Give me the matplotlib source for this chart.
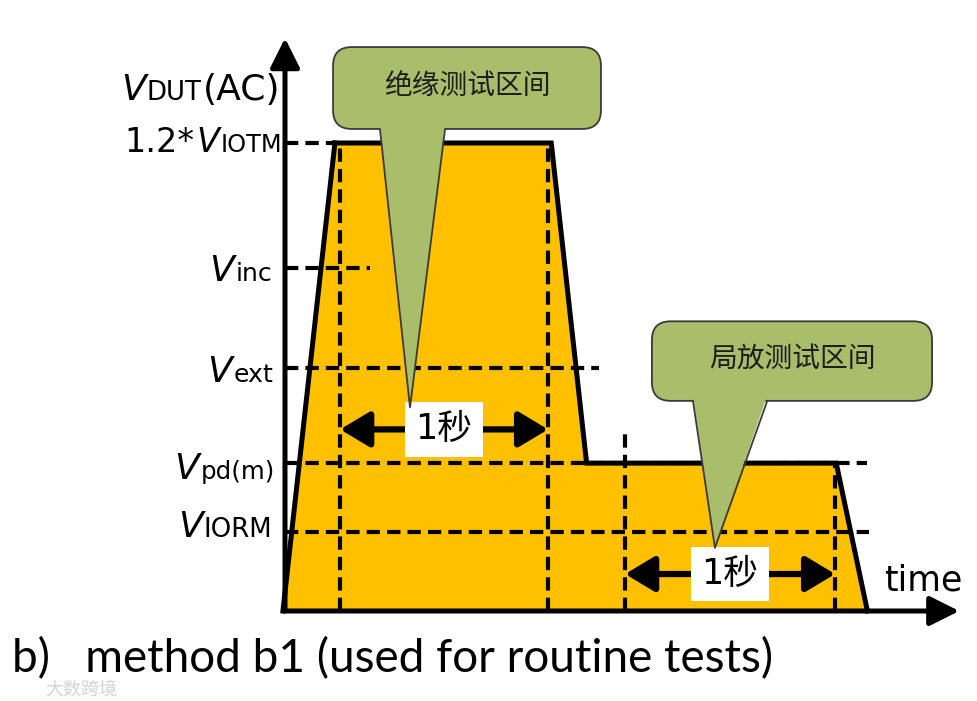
import matplotlib
matplotlib.use("Agg")
import matplotlib.pyplot as plt
from matplotlib.patches import Polygon, FancyBboxPatch, FancyArrowPatch
from matplotlib.offsetbox import TextArea, HPacker, AnnotationBbox

plt.rcParams['font.family'] = ['DejaVu Sans', 'Noto Sans CJK SC']

# --- waveform (time in seconds-ish units, voltage with 1.2*V_IOTM = 100) ---
wave_t = [-0.01, 0.24, 1.28, 1.45, 2.65, 2.80]
wave_v = [0, 100, 100, 31.6, 31.6, 0]

# voltage levels on the y axis
level_main = ["V", "1.2*V", "V", "V", "V", "V"]
level_sub = ["DUT(AC)", "IOTM", "inc", "ext", "pd(m)", "IORM"]
level_v = [100.0, 73.3, 52.0, 31.6, 16.8]
level_stop = [0.24, 0.41, 1.51, 2.80, 2.81]   # where each dashed guide ends

# vertical guides (start of/end of the 1 s windows)
mark_t = [0.265, 1.265, 1.635, 2.645]
mark_top = [100, 100, 39.0, 31.6]

# 1-second windows: (start, end, height)
win_start = [0.265, 1.635]
win_end = [1.265, 2.645]
win_v = [38.8, 7.9]
win_label = "1秒"

callout_text = ["绝缘测试区间", "局放测试区间"]

ORANGE = "#FFC000"
GREEN = "#A9BD6B"

fig = plt.figure(figsize=(9.78, 7.01), dpi=100)
ax = fig.add_axes([0, 0, 1, 1])
# 1 unit of t = 208 px, 1 unit of v = 4.68 px; origin at pixel (285, 611)
ax.set_xlim(-285 / 208, (978 - 285) / 208)
ax.set_ylim(-(701 - 611) / 4.68, 611 / 4.68)
ax.axis("off")

# orange area + outline
ax.add_patch(Polygon(list(zip(wave_t, wave_v)), closed=True, facecolor=ORANGE,
                     edgecolor="none", zorder=1))
ax.plot(wave_t[1:], wave_v[1:], color="black", lw=3.6, solid_joinstyle="miter", zorder=4)
ax.plot(wave_t[:2], wave_v[:2], color="black", lw=3.6, zorder=4)

dash = (0, (3.2, 1.7))
for v, stop in zip(level_v, level_stop):
    ax.plot([0, stop], [v, v], color="black", lw=3.0, linestyle=dash, zorder=3)
for t, top in zip(mark_t, mark_top):
    ax.plot([t, t], [0, top], color="black", lw=3.0, linestyle=dash, zorder=3)

# axes with arrows
for start, end in [((0, -0.5), (0, 123)), ((-0.02, 0), (3.255, 0))]:
    ax.add_patch(FancyArrowPatch(start, end, arrowstyle="-|>,head_length=0.9,head_width=0.45",
                                 mutation_scale=20, lw=3.6, color="black", zorder=6))

# y labels (pixel rows of the reference turned into v units)
label_y = [(611 - 90) / 4.68, (611 - 143) / 4.68, (611 - 271) / 4.68,
           (611 - 372) / 4.68, (611 - 469) / 4.68, (611 - 527) / 4.68]
label_x = [-0.02, -0.015, -0.06, -0.055, -0.048, -0.06]
main_size = [26, 24, 26, 26, 26, 26]
sub_ratio = [0.72, 0.72, 0.7, 0.7, 0.68, 0.72]
for m, s, x, y, fs, r in zip(level_main, level_sub, label_x, label_y, main_size, sub_ratio):
    parts = []
    if m.startswith("1.2*"):
        parts.append(TextArea("1.2*", textprops=dict(fontsize=fs)))
    parts.append(TextArea("V", textprops=dict(fontsize=fs, fontstyle="italic")))
    if s == "DUT(AC)":
        parts.append(TextArea("DUT", textprops=dict(fontsize=fs * r)))
        parts.append(TextArea("(AC)", textprops=dict(fontsize=fs)))
    else:
        parts.append(TextArea(s, textprops=dict(fontsize=fs * r)))
    box = HPacker(children=parts, align="baseline", pad=0, sep=1)
    ax.add_artist(AnnotationBbox(box, (x, y), box_alignment=(1, 0.5), frameon=False,
                                 pad=0, zorder=7))

# 1 s windows
for t0, t1, v in zip(win_start, win_end, win_v):
    ax.add_patch(FancyArrowPatch((t0, v), (t1, v), arrowstyle="<|-|>,head_length=1.0,head_width=0.6",
                                 mutation_scale=18, lw=4.5, color="black", zorder=8,
                                 shrinkA=0, shrinkB=0))
    ax.text((t0 + t1) / 2, v, win_label, fontsize=25, ha="center", va="center",
            family=["DejaVu Sans", "Noto Sans CJK SC"], zorder=9,
            bbox=dict(boxstyle="square,pad=0.3", facecolor="white", edgecolor="none"))

# callouts: box corners (t0, t1, v0, v1), tail base (ta, tb), tip (tt, vt)
callouts = [
    ((0.231, 1.519, 103.0, 120.5), (0.457, 0.769), (0.601, 43.5)),
    ((1.764, 3.111, 44.9, 61.9), (1.962, 2.317), (2.067, 13.5)),
]
for (t0, t1, v0, v1), (ta, tb), (tt, vt), txt in zip(*zip(*callouts), callout_text):
    ax.add_patch(FancyBboxPatch((t0, v0), t1 - t0, v1 - v0,
                                boxstyle="round,pad=0,rounding_size=0.09",
                                mutation_aspect=208 / 4.68, facecolor=GREEN,
                                edgecolor="#3a3a3a", lw=1.3, zorder=10))
    ax.add_patch(Polygon([(ta, v0 + 1.0), (tt, vt), (tb, v0 + 1.0)], closed=True,
                         facecolor=GREEN, edgecolor="none", zorder=11))
    ax.plot([ta, tt, tb], [v0 - 0.2, vt, v0 - 0.2], color="#3a3a3a", lw=1.3, zorder=11)
    ax.text((t0 + t1) / 2, (v0 + v1) / 2 + 0.5, txt, fontsize=20, ha="center", va="center",
            family="Noto Sans CJK SC", color="#1e1e1e", zorder=12)

ax.text(2.88, 6.5, "time", fontsize=25, ha="left", va="center", zorder=7)

fig.text(0.012, 0.041, "b)   method b1 (used for routine tests)", fontsize=33,
         family="Lato", ha="left", va="baseline")
fig.text(0.046, 0.004, "大数跨境", fontsize=13, family="Noto Sans CJK SC",
         color="#d4d4d4", ha="left", va="bottom")

fig.savefig("out.png", dpi=100)
